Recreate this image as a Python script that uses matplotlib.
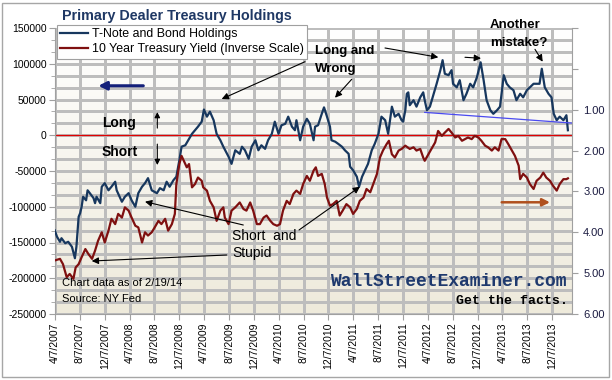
import numpy as np
import matplotlib
matplotlib.use("Agg")
import matplotlib.pyplot as plt
from matplotlib.colors import LinearSegmentedColormap
from matplotlib.patches import Rectangle
from matplotlib.ticker import MultipleLocator, FuncFormatter

plt.rcParams['font.family'] = ['Liberation Sans', 'DejaVu Sans']

# --- data (decimal years) ---
holdings_year = [
    2007.26, 2007.29, 2007.33, 2007.35, 2007.40, 2007.44, 2007.49, 2007.53, 2007.55, 2007.58,
    2007.60, 2007.62, 2007.64, 2007.68, 2007.70, 2007.73, 2007.78, 2007.80, 2007.82, 2007.87,
    2007.89, 2007.93, 2007.98, 2008.02, 2008.07, 2008.09, 2008.13, 2008.16, 2008.20, 2008.25,
    2008.29, 2008.34, 2008.38, 2008.43, 2008.47, 2008.51, 2008.56, 2008.63, 2008.67, 2008.72,
    2008.76, 2008.80, 2008.85, 2008.89, 2008.93, 2008.96, 2009.01, 2009.05, 2009.10, 2009.14,
    2009.18, 2009.23, 2009.26, 2009.30, 2009.34, 2009.39, 2009.43, 2009.48, 2009.52, 2009.59,
    2009.63, 2009.68, 2009.74, 2009.77, 2009.81, 2009.86, 2009.90, 2009.95, 2009.99, 2010.03,
    2010.08, 2010.12, 2010.17, 2010.21, 2010.26, 2010.30, 2010.35, 2010.39, 2010.44, 2010.48,
    2010.50, 2010.55, 2010.59, 2010.64, 2010.68, 2010.73, 2010.75, 2010.79, 2010.84, 2010.87,
    2010.91, 2010.95, 2010.97, 2011.02, 2011.06, 2011.11, 2011.15, 2011.20, 2011.22, 2011.26,
    2011.31, 2011.34, 2011.38, 2011.42, 2011.46, 2011.51, 2011.55, 2011.60, 2011.64, 2011.69,
    2011.73, 2011.78, 2011.82, 2011.87, 2011.91, 2011.93, 2011.96, 2011.98, 2012.00, 2012.02,
    2012.07, 2012.11, 2012.16, 2012.20, 2012.22, 2012.25, 2012.29, 2012.34, 2012.38, 2012.43,
    2012.46, 2012.49, 2012.54, 2012.58, 2012.60, 2012.65, 2012.69, 2012.74, 2012.78, 2012.83,
    2012.87, 2012.92, 2012.97, 2013.01, 2013.05, 2013.10, 2013.14, 2013.19, 2013.23, 2013.28,
    2013.32, 2013.36, 2013.41, 2013.45, 2013.50, 2013.54, 2013.59, 2013.63, 2013.68, 2013.72,
    2013.76, 2013.79, 2013.83, 2013.88, 2013.92, 2013.95, 2013.99, 2014.03, 2014.08, 2014.12,
    2014.14,
]
holdings_k = [
    -133, -142, -149, -144, -151, -149, -156, -172, -156, -114,
    -109, -100, -86, -91, -77, -81, -88, -95, -86, -95,
    -72, -67, -77, -72, -65, -77, -86, -93, -86, -81,
    -91, -100, -81, -72, -67, -60, -77, -81, -74, -77,
    -65, -72, -63, -58, -35, -16, -14, -7, 2, 7,
    12, 19, 36, 26, 33, 21, 2, -7, -16, -30,
    -40, -21, -26, -16, -21, -33, -16, -7, -21, -14,
    -19, -7, 2, 19, 2, 14, 16, 26, 12, 7,
    21, -7, 12, 23, 16, -7, 12, 14, 30, 39,
    26, 12, -7, -9, -12, -16, -21, -26, -44, -49,
    -58, -72, -58, -49, -40, -21, -12, 2, 26, 21,
    2, 40, 26, 30, 21, 19, 35, 58, 60, 42,
    49, 40, 53, 60, 49, 35, 40, 58, 72, 91,
    105, 86, 84, 91, 72, 67, 77, 49, 58, 72,
    67, 81, 102, 77, 49, 35, 30, 35, 40, 84,
    72, 67, 63, 49, 58, 53, 63, 67, 72, 72,
    72, 93, 67, 58, 53, 30, 21, 26, 21, 28,
    7,
]

yield_year = [
    2007.26, 2007.33, 2007.37, 2007.42, 2007.46, 2007.51, 2007.54, 2007.58, 2007.62, 2007.67,
    2007.71, 2007.76, 2007.80, 2007.84, 2007.89, 2007.93, 2007.98, 2008.02, 2008.07, 2008.11,
    2008.16, 2008.20, 2008.25, 2008.29, 2008.34, 2008.38, 2008.43, 2008.47, 2008.51, 2008.56,
    2008.60, 2008.65, 2008.69, 2008.74, 2008.78, 2008.83, 2008.87, 2008.89, 2008.93, 2008.96,
    2008.99, 2009.03, 2009.06, 2009.10, 2009.14, 2009.18, 2009.23, 2009.25, 2009.30, 2009.34,
    2009.39, 2009.43, 2009.48, 2009.52, 2009.54, 2009.59, 2009.63, 2009.68, 2009.74, 2009.79,
    2009.83, 2009.88, 2009.92, 2009.97, 2010.01, 2010.06, 2010.10, 2010.15, 2010.19, 2010.24,
    2010.28, 2010.32, 2010.37, 2010.41, 2010.46, 2010.50, 2010.55, 2010.59, 2010.64, 2010.68,
    2010.73, 2010.76, 2010.79, 2010.84, 2010.88, 2010.91, 2010.95, 2010.99, 2011.04, 2011.08,
    2011.12, 2011.17, 2011.22, 2011.26, 2011.31, 2011.35, 2011.40, 2011.44, 2011.49, 2011.53,
    2011.58, 2011.62, 2011.66, 2011.71, 2011.74, 2011.78, 2011.82, 2011.87, 2011.91, 2011.96,
    2012.02, 2012.07, 2012.11, 2012.16, 2012.20, 2012.22, 2012.27, 2012.31, 2012.36, 2012.40,
    2012.45, 2012.49, 2012.54, 2012.58, 2012.63, 2012.67, 2012.72, 2012.76, 2012.80, 2012.85,
    2012.89, 2012.94, 2012.98, 2013.03, 2013.07, 2013.12, 2013.16, 2013.21, 2013.25, 2013.30,
    2013.34, 2013.39, 2013.43, 2013.48, 2013.50, 2013.54, 2013.59, 2013.63, 2013.68, 2013.72,
    2013.77, 2013.81, 2013.85, 2013.90, 2013.94, 2013.99, 2014.03, 2014.08, 2014.12, 2014.14,
]
yield_pct = [
    4.69, 4.65, 4.78, 5.10, 5.02, 5.14, 4.86, 4.78, 4.61, 4.41,
    4.53, 4.65, 4.45, 4.21, 4.00, 4.25, 3.96, 3.67, 3.80, 3.55,
    3.64, 3.39, 3.47, 3.64, 3.84, 3.88, 4.25, 4.00, 4.08, 4.00,
    3.88, 3.72, 3.80, 3.67, 3.96, 3.80, 3.55, 2.82, 2.33, 2.13,
    2.25, 2.41, 2.33, 2.90, 2.82, 2.66, 2.74, 2.90, 2.98, 3.23,
    3.39, 3.72, 3.47, 3.39, 3.64, 3.80, 3.47, 3.39, 3.27, 3.43,
    3.47, 3.27, 3.47, 3.80, 3.80, 3.64, 3.59, 3.72, 3.80, 3.84,
    3.80, 3.47, 3.23, 3.31, 3.06, 2.98, 3.06, 2.82, 2.62, 2.74,
    2.49, 2.41, 2.62, 2.57, 2.82, 3.15, 3.35, 3.31, 3.23, 3.59,
    3.47, 3.31, 3.39, 3.55, 3.43, 3.23, 3.15, 2.94, 3.02, 2.82,
    2.57, 2.17, 2.00, 1.84, 1.76, 2.09, 2.17, 2.00, 1.96, 1.88,
    1.96, 1.92, 2.00, 1.96, 2.17, 2.25, 2.09, 1.96, 1.80, 1.52,
    1.64, 1.56, 1.47, 1.56, 1.68, 1.64, 1.76, 1.72, 1.68, 1.72,
    1.64, 1.68, 1.76, 1.88, 1.92, 2.00, 1.92, 2.00, 1.72, 1.72,
    1.84, 2.00, 2.13, 2.37, 2.70, 2.57, 2.66, 2.82, 2.94, 2.74,
    2.66, 2.54, 2.66, 2.74, 2.86, 2.98, 2.82, 2.70, 2.70, 2.68,
]

# hand-drawn support line on the holdings series
trend_year = [2012.22, 2014.20]
trend_k = [32, 17]

tick_labels = [
    '4/7/2007', '8/7/2007', '12/7/2007', '4/7/2008', '8/7/2008', '12/7/2008',
    '4/7/2009', '8/7/2009', '12/7/2009', '4/7/2010', '8/7/2010', '12/7/2010',
    '4/7/2011', '8/7/2011', '12/7/2011', '4/7/2012', '8/7/2012', '12/7/2012',
    '4/7/2013', '8/7/2013', '12/7/2013',
]
x_start = 2007.263
x_end = 2014.195
tick_pos = [x_start + i / 3 for i in range(len(tick_labels))]

BLUE = '#17375E'
RED = '#7F1010'
GRID = '#BDBDBD'
SPINE = '#A0A0A0'

fig = plt.figure(figsize=(6.12, 3.80), dpi=100)
rect = [55 / 612, 1 - 314 / 380, 517 / 612, 286 / 380]

# gradient plot-area background on its own axes, behind everything
bg_ax = fig.add_axes(rect, zorder=-1)
bg = LinearSegmentedColormap.from_list('bg', ['#EEEADB', '#FFFFFF'])
bg_ax.imshow(np.linspace(0, 1, 256).reshape(-1, 1), cmap=bg, aspect='auto', origin='lower')
bg_ax.axis('off')

ax = fig.add_axes(rect)
ax.patch.set_visible(False)

ax.set_xlim(x_start, x_end)
ax.set_ylim(-250000, 150000)
ax.yaxis.set_major_locator(MultipleLocator(50000))
ax.yaxis.set_minor_locator(MultipleLocator(50000 / 3))
ax.yaxis.set_major_formatter(FuncFormatter(lambda v, p: f"{int(round(v))}"))
ax.set_xticks(tick_pos)
ax.set_xticklabels(tick_labels, rotation=90, fontsize=7.5)
ax.tick_params(axis='y', which='major', labelsize=7.5, length=4, color=SPINE, pad=2)
ax.tick_params(axis='y', which='minor', length=3, color=SPINE)
ax.tick_params(axis='x', length=4, color=SPINE, pad=2)
for s in ['top', 'right']:
    ax.spines[s].set_visible(False)
for s in ['left', 'bottom']:
    ax.spines[s].set_color(SPINE)

# gridlines drawn from the tick locations, 1 px and snapped
for yv in list(ax.yaxis.get_minorticklocs()) + list(ax.yaxis.get_majorticklocs()):
    ax.axhline(yv, color=GRID, lw=0.75, snap=True, antialiased=False, zorder=1.5)
for xv in tick_pos:
    ax.axvline(xv, color=GRID, lw=0.75, snap=True, antialiased=False, zorder=1.5)

ax.axhline(0, color='#E00000', lw=0.9, zorder=2)
l1, = ax.plot(holdings_year, [v * 1000 for v in holdings_k], color=BLUE, lw=1.6, zorder=3)
ax.plot(trend_year, [v * 1000 for v in trend_k], color='#4A4AF0', lw=0.9, zorder=3)

ax2 = ax.twinx()
ax2.set_ylim(6, -1)
ax2.set_yticks(range(-1, 7))
ax2.yaxis.set_major_formatter(FuncFormatter(lambda v, p: f"{v:.2f}" if v >= 1 else ''))
ax2.tick_params(axis='y', labelsize=8, length=4, color=SPINE, pad=4, labelcolor='#1a1a40')
for s in ['top', 'left', 'bottom']:
    ax2.spines[s].set_visible(False)
ax2.spines['right'].set_color(SPINE)
l2, = ax2.plot(yield_year, yield_pct, color=RED, lw=1.6, zorder=3)

leg = ax2.legend([l1, l2], ['T-Note and Bond Holdings', '10 Year Treasury Yield (Inverse Scale)'],
                 loc='upper left', bbox_to_anchor=(57 / 612, 1 - 25 / 380),
                 bbox_transform=fig.transFigure, fontsize=8.9, fancybox=False,
                 edgecolor=SPINE, framealpha=1, borderaxespad=0, borderpad=0.28,
                 handlelength=2.2, handletextpad=0.35, labelspacing=0.22)
leg.get_frame().set_linewidth(0.8)

fig.text(177 / 612, 1 - 16 / 380, 'Primary Dealer Treasury Holdings', ha='center',
         va='center', fontsize=10.3, weight='bold', color='#1F3864')

# --- annotations (axes fraction) ---
def arrow(p_from, p_to, color='black', lw=0.8, ms=10):
    ax2.annotate('', xy=p_to, xytext=p_from, xycoords='axes fraction',
                 textcoords='axes fraction', annotation_clip=False,
                 arrowprops=dict(arrowstyle='-|>', color=color, lw=lw,
                                 mutation_scale=ms, shrinkA=0, shrinkB=0))

def label(x, y, s, **kw):
    ax2.text(x, y, s, transform=ax2.transAxes, va='center', clip_on=False, **kw)

arrow((0.1708, 0.798), (0.0838, 0.798), color='#14207A', lw=2.2, ms=12)
label(0.0909, 0.669, 'Long', fontsize=10, weight='bold')
label(0.0909, 0.5675, 'Short', fontsize=10, weight='bold')
arrow((0.1979, 0.650), (0.1979, 0.706), ms=8)
arrow((0.1979, 0.594), (0.1979, 0.521), ms=8)

label(0.503, 0.9196, 'Long and', fontsize=9.5, weight='bold')
label(0.503, 0.857, 'Wrong', fontsize=9.5, weight='bold')
arrow((0.4836, 0.8822), (0.3224, 0.7517))
arrow((0.5739, 0.8206), (0.5416, 0.7563))
arrow((0.6383, 0.9301), (0.7414, 0.8976))
arrow((0.7930, 0.8976), (0.8240, 0.8941))

label(0.8414, 1.0105, 'Another', fontsize=9.5, weight='bold')
label(0.8414, 0.9476, 'mistake?', fontsize=9.5, weight='bold')
arrow((0.9284, 0.9255), (0.9433, 0.8822))

arrow((0.864, 0.3906), (0.9574, 0.3906), color='#B0501E', lw=1.8, ms=11)

label(0.3424, 0.2727, 'Short  and', fontsize=10)
label(0.3424, 0.2133, 'Stupid', fontsize=10)
arrow((0.3642, 0.3112), (0.1741, 0.3927))
arrow((0.3321, 0.2063), (0.0710, 0.1853))
arrow((0.4720, 0.2937), (0.5899, 0.4451))

label(0.0135, 0.1094, 'Chart data as of 2/19/14', fontsize=8)
label(0.0135, 0.0524, 'Source: NY Fed', fontsize=8)

label(0.9903, 0.1130, 'WallStreetExaminer.com', fontsize=13, weight='bold',
      family='Liberation Mono', color='#1F3A6E', ha='right')
label(0.9923, 0.0455, 'Get the facts.', fontsize=9.5, weight='bold',
      family='Liberation Mono', color='black', ha='right')

fig.patches.append(Rectangle((2 / 612, 3 / 380), 607 / 612, 374 / 380, transform=fig.transFigure,
                             fill=False, edgecolor='#A6A6A6', lw=1))

fig.savefig('out.png', dpi=100)
